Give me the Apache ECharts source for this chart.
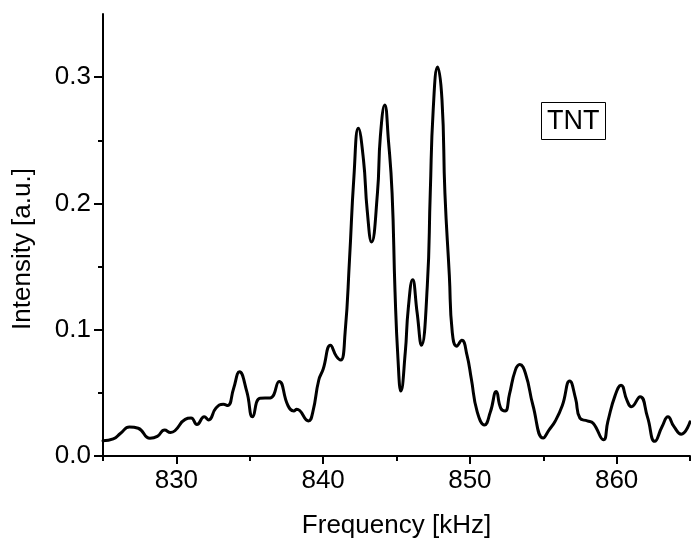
<!DOCTYPE html>
<html>
<head>
<meta charset="utf-8">
<script src="https://cdn.jsdelivr.net/npm/echarts@6/dist/echarts.min.js"></script>
<style>html,body{margin:0;padding:0;background:#fff}#c{width:691px;height:544px}</style>
</head>
<body>
<div id="c"></div>
<script>
const frequency = [825.0,825.7,826.2,826.8,827.4,828.2,828.7,829.2,829.6,829.9,830.6,831.0,831.4,831.9,832.2,832.7,833.2,833.5,833.9,834.3,834.8,835.2,835.7,836.4,837.0,837.6,838.0,838.2,839.0,839.3,839.7,840.0,840.5,840.9,841.2,841.5,841.8,842.1,842.4,842.75,843.0,843.3,843.7,843.9,844.2,844.45,844.7,844.9,845.1,845.3,845.6,845.8,846.1,846.4,846.7,847.1,847.3,847.5,847.8,848.1,848.3,848.6,848.8,849.1,849.45,849.8,850.1,850.5,851.0,851.4,851.8,852.1,852.4,852.7,853.1,853.4,853.8,854.3,855.0,855.4,855.8,856.3,856.8,857.2,857.5,858.0,858.4,859.1,859.4,859.9,860.3,860.7,861.0,861.6,862.1,862.6,863.1,863.5,863.9,864.4,865.0];
const intensity = [0.012,0.0135,0.018,0.023,0.022,0.014,0.0155,0.0205,0.0186,0.020,0.029,0.030,0.025,0.031,0.0286,0.038,0.041,0.040,0.0535,0.0667,0.051,0.031,0.0457,0.046,0.059,0.040,0.0357,0.037,0.0278,0.035,0.060,0.0687,0.0877,0.079,0.076,0.098,0.156,0.2215,0.2596,0.2346,0.195,0.1695,0.208,0.253,0.278,0.250,0.208,0.130,0.077,0.0514,0.0824,0.1165,0.1396,0.114,0.0877,0.135,0.208,0.274,0.308,0.282,0.208,0.143,0.098,0.087,0.0916,0.080,0.061,0.035,0.0246,0.035,0.051,0.038,0.0357,0.049,0.068,0.0724,0.065,0.040,0.0142,0.0207,0.0273,0.040,0.0593,0.0457,0.030,0.0278,0.026,0.0128,0.0273,0.048,0.056,0.0443,0.039,0.047,0.031,0.0116,0.0234,0.031,0.0234,0.0173,0.027];
const xMajorTicks = [830, 840, 850, 860];
const xMinorTicks = [825, 835, 845, 855, 865];
const yMajorTicks = [0, 0.1, 0.2, 0.3];
const yMinorTicks = [0.05, 0.15, 0.25];
const annotation = 'TNT';
const xName = 'Frequency [kHz]';
const yName = 'Intensity [a.u.]';

const font = 'Liberation Sans, Arial, Helvetica, sans-serif';
const chart = echarts.init(document.getElementById('c'), null, {renderer: 'canvas'});
const axisLine = {show: true, onZero: false, lineStyle: {color: '#000', width: 2}};
chart.setOption({
  animation: false,
  backgroundColor: '#fff',
  title: {
    text: annotation, left: 541, top: 102,
    borderColor: '#000', borderWidth: 1, padding: [6, 6, 5, 6],
    textStyle: {fontFamily: font, fontSize: 27, fontWeight: 'normal', color: '#000'}
  },
  grid: {left: 103, right: 1, top: 14, bottom: 86},
  xAxis: [{
    type: 'value', min: 825, max: 865,
    name: xName, nameLocation: 'middle', nameGap: 57,
    nameTextStyle: {fontFamily: font, fontSize: 26, color: '#000'},
    axisLine: axisLine,
    axisTick: {show: true, length: 8, lineStyle: {color: '#000', width: 2}, customValues: xMajorTicks},
    axisLabel: {margin: 12, fontFamily: font, fontSize: 26, color: '#000', customValues: xMajorTicks},
    splitLine: {show: false}
  }, {
    type: 'value', min: 825, max: 865, position: 'bottom',
    axisLine: {show: false},
    axisTick: {show: true, length: 5, lineStyle: {color: '#000', width: 2}, customValues: xMinorTicks},
    axisLabel: {show: false, customValues: xMinorTicks},
    splitLine: {show: false}
  }],
  yAxis: [{
    type: 'value', min: 0, max: 0.35,
    name: yName, nameLocation: 'middle', nameGap: 67,
    nameTextStyle: {fontFamily: font, fontSize: 26, color: '#000', padding: [0, 28, 0, 0]},
    axisLine: axisLine,
    axisTick: {show: true, length: 9, lineStyle: {color: '#000', width: 2}, customValues: yMajorTicks},
    axisLabel: {margin: 12, fontFamily: font, fontSize: 26, color: '#000', customValues: yMajorTicks,
      formatter: v => v.toFixed(1)},
    splitLine: {show: false}
  }, {
    type: 'value', min: 0, max: 0.35, position: 'left',
    axisLine: {show: false},
    axisTick: {show: true, length: 5, lineStyle: {color: '#000', width: 2}, customValues: yMinorTicks},
    axisLabel: {show: false, customValues: yMinorTicks},
    splitLine: {show: false}
  }],
  series: [{
    type: 'line', xAxisIndex: 0, yAxisIndex: 0,
    data: frequency.map((f, i) => [f, intensity[i]]),
    showSymbol: false, smooth: 0.5,
    lineStyle: {color: '#000', width: 3, join: 'round', cap: 'round'},
    clip: true
  }]
});
</script>
</body>
</html>
